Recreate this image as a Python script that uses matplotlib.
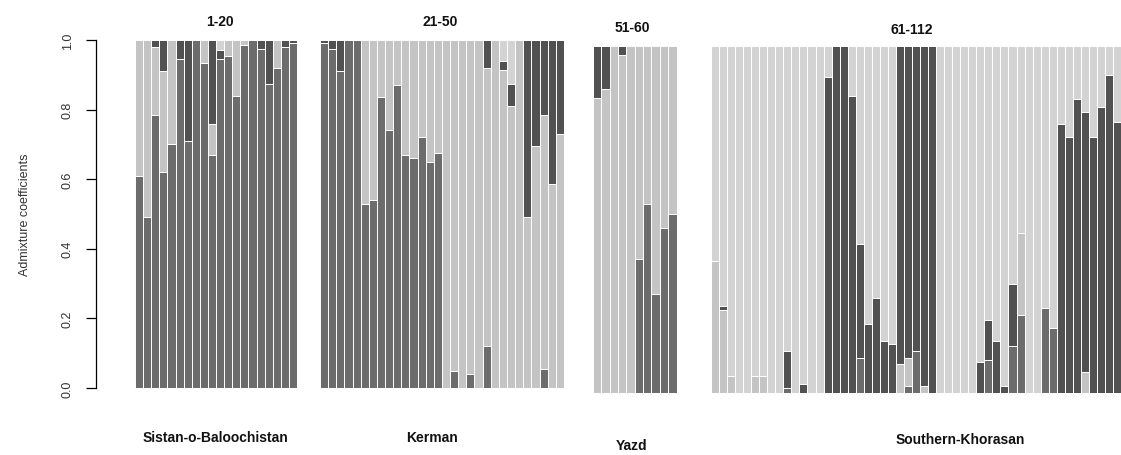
import numpy as np
import matplotlib
matplotlib.use("Agg")
import matplotlib.pyplot as plt

plt.rcParams['font.family'] = ['Liberation Sans', 'DejaVu Sans']

# admixture proportions per individual, four clusters stacked bottom -> top
# cluster A (mid grey), B (light grey), C (dark grey), D (lightest grey)
groups = ["1-20", "21-50", "51-60", "61-112"]
regions = ["Sistan-o-Baloochistan", "Kerman", "Yazd", "Southern-Khorasan"]

# 1-20
p1_A = [.61, .49, .785, .62, .70, .945, .71, 1.0, .935, .67, .945, .955, .84, .985, 1.0, .975, .875, .92, .98, .99]
p1_B = [.39, .51, .195, .29, .30, 0, 0, 0, .065, .09, 0, .045, .16, .015, 0, 0, 0, .08, 0, 0]
p1_C = [0, 0, .02, .09, 0, .055, .29, 0, 0, .24, .025, 0, 0, 0, 0, .025, .125, 0, .02, .01]
p1_D = [0, 0, 0, 0, 0, 0, 0, 0, 0, 0, .03, 0, 0, 0, 0, 0, 0, 0, 0, 0]

# 21-50
p2_A = [.99, .975, .91, 1.0, 1.0, .53, .54, .835, .74, .87, .67, .66, .72, .65, .675,
        0, .05, 0, .04, 0, .12, 0, 0, 0, 0, 0, 0, .055, 0, 0]
p2_B = [0, 0, 0, 0, 0, .47, .46, .165, .26, .13, .33, .34, .28, .35, .325,
        1.0, .95, 1.0, .96, 1.0, .80, 1.0, .915, .81, 1.0, .49, .695, .73, .585, .73]
p2_C = [.01, .025, .09, 0, 0, 0, 0, 0, 0, 0, 0, 0, 0, 0, 0,
        0, 0, 0, 0, 0, .08, 0, .025, .065, 0, .51, .305, .215, .415, .27]
p2_D = [0, 0, 0, 0, 0, 0, 0, 0, 0, 0, 0, 0, 0, 0, 0,
        0, 0, 0, 0, 0, 0, 0, .06, .125, 0, 0, 0, 0, 0, 0]

# 51-60
p3_A = [0, 0, 0, 0, 0, .385, .545, .285, .475, .515]
p3_B = [.85, .875, 1.0, .975, 1.0, .615, .455, .715, .525, .485]
p3_C = [.15, .125, 0, .025, 0, 0, 0, 0, 0, 0]
p3_D = [0, 0, 0, 0, 0, 0, 0, 0, 0, 0]

# 61-112
p4_A = [0, 0, 0, 0, 0, 0, 0, 0, 0, .015, 0, 0, 0, 0,
        0, 0, 0, 0, .10, 0, 0, 0, 0, 0, .02, .12, 0, 0,
        0, 0, 0, 0, 0,
        0, .096, 0, 0, .136, .226, 0, 0, .246, .188, 0, 0, 0, 0, 0, 0, 0, 0, 0]
p4_B = [.38, .24, .05, 0, 0, .05, .05, 0, 0, 0, 0, 0, 0, 0,
        0, 0, 0, 0, 0, 0, 0, 0, 0, .085, .08, 0, .02, 0,
        0, 0, 0, 0, 0,
        0, 0, 0, 0, 0, .236, 0, 0, 0, 0, 0, 0, 0, .06, 0, 0, 0, 0, 0]
p4_C = [0, .012, 0, 0, 0, 0, 0, 0, 0, .105, 0, .025, 0, 0,
        .91, 1.0, 1.0, .857, .33, .20, .275, .15, .14, .915, .90, .88, .98, 1.0,
        0, 0, 0, 0, 0,
        .09, .114, .15, .02, .177, 0, 0, 0, 0, 0, .776, .737, .848, .75, .737, .824, .915, .78, .76]
p4_D = [.62, .748, .95, 1.0, 1.0, .95, .95, 1.0, 1.0, .88, 1.0, .975, 1.0, 1.0,
        .09, 0, 0, .143, .57, .80, .725, .85, .86, 0, 0, 0, 0, 0,
        1.0, 1.0, 1.0, 1.0, 1.0,
        .91, .79, .85, .98, .687, .538, 1.0, 1.0, .754, .812, .224, .263, .152, .19, .263, .176, .085, .22, .24]

panels = [
    (p1_A, p1_B, p1_C, p1_D),
    (p2_A, p2_B, p2_C, p2_D),
    (p3_A, p3_B, p3_C, p3_D),
    (p4_A, p4_B, p4_C, p4_D),
]
colors = ["#6c6c6c", "#c4c4c4", "#515151", "#d3d3d3"]

W, H = 1121, 456
fig = plt.figure(figsize=(W / 100, H / 100), dpi=100)

# pixel boxes: (first bar left, bar width, top, bottom)
boxes = [(135, 8.1, 41, 389), (320, 8.13, 41, 389), (593, 8.35, 47, 394), (711, 8.04, 47, 394)]
title_pos = [(220, 22), (440, 22), (632, 28), (912, 30)]
label_pos = [(215, 438), (432, 438), (632, 446), (960, 440)]

for k, (vals, (x0, bw, top, bot)) in enumerate(zip(panels, boxes)):
    n = len(vals[0])
    left_px = 96 if k == 0 else x0
    ax = fig.add_axes([left_px / W, (H - bot) / H, (x0 + n * bw - left_px) / W, (bot - top) / H])
    x = np.arange(n)
    bottom = np.zeros(n)
    for v, c in zip(vals, colors):
        v = np.array(v)
        ax.bar(x, v, bottom=bottom, width=1, align='edge', color=c,
               edgecolor='white', linewidth=0.7)
        bottom += v
    ax.set_xlim((left_px - x0) / bw, n)
    ax.set_ylim(0, 1)
    for s in ['top', 'right', 'bottom']:
        ax.spines[s].set_visible(False)
    ax.set_xticks([])
    if k == 0:
        ax.spines['left'].set_linewidth(0.9)
        ax.set_yticks([0, 0.2, 0.4, 0.6, 0.8, 1.0])
        ax.set_yticklabels(["0.0", "0.2", "0.4", "0.6", "0.8", "1.0"],
                           rotation=90, va='center', fontsize=9, color='#333333')
        ax.tick_params(axis='y', length=7, width=0.9, pad=9)
        ax.set_ylabel("Admixture coefficients", fontsize=9, color='#333333', labelpad=22)
    else:
        ax.spines['left'].set_visible(False)
        ax.set_yticks([])
    ax.set_facecolor('none')

    tx, ty = title_pos[k]
    fig.text(tx / W, 1 - ty / H, groups[k], ha='center', va='center',
             fontsize=10, fontweight='bold', color='#111111')
    lx, ly = label_pos[k]
    fig.text(lx / W, 1 - ly / H, regions[k], ha='center', va='center',
             fontsize=10, fontweight='bold', color='#111111')

fig.savefig("out.png", dpi=100)
